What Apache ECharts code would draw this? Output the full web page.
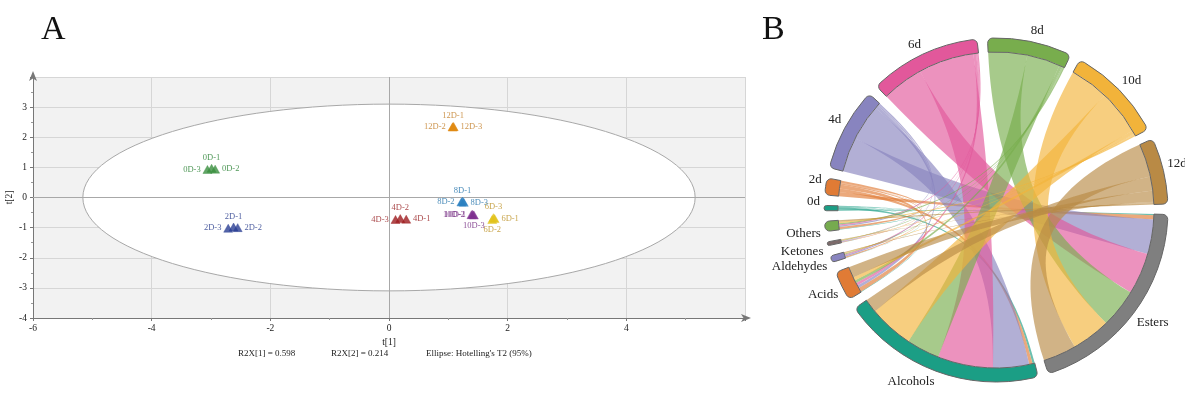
<!DOCTYPE html>
<html><head><meta charset="utf-8">
<script src="https://cdn.jsdelivr.net/npm/echarts@6/dist/echarts.min.js"></script>
<style>html,body{margin:0;padding:0;background:#fff}#c{width:1185px;height:414px}</style>
</head><body><div id="c"></div>
<script>
// ---------- Panel A: PCA scores ----------
const groups = ['0D','2D','4D','6D','8D','10D','12D'];
const groupColors = ['#3a8f3f','#2b3f93','#9e1b1f','#e2c21a','#2a7fc0','#7d2e8e','#e08a12'];
const labelColors = ['#25802f','#223688','#921518','#bb9022','#1b6ea8','#6a1c78','#c07a22'];
const sampleNames = [
  ['0D-1','0D-2','0D-3'], ['2D-1','2D-2','2D-3'], ['4D-1','4D-2','4D-3'],
  ['6D-1','6D-2','6D-3'], ['8D-1','8D-2','8D-3'], ['10D-1','10D-2','10D-3'], ['12D-1','12D-2','12D-3']
];
const t1 = [
  [-2.99,-2.93,-3.06], [-2.62,-2.55,-2.71], [0.29,0.19,0.11],
  [1.78,1.74,1.76], [1.24,1.22,1.26], [1.41,1.39,1.43], [1.08,1.07,1.09]
];
const t2 = [
  [0.97,0.94,0.93], [-0.98,-1.0,-1.02], [-0.72,-0.70,-0.73],
  [-0.70,-0.73,-0.67], [-0.12,-0.15,-0.16], [-0.56,-0.57,-0.58], [2.36,2.34,2.35]
];
const labelPos = [
  ['top','right','left'], ['top','right','left'], ['right','top','left'],
  ['right','bottom','top'], ['top','left','right'], ['left','left','bottom'], ['top','left','right']
];
const ellipseAxes = [5.16, 3.1];
const r2x = ['R2X[1] = 0.598', 'R2X[2] = 0.214', "Ellipse: Hotelling's T2 (95%)"];

// ---------- Panel B: chord diagram ----------
const chordNodes = ['6d','8d','10d','12d','Esters','Alcohols','Acids','Aldehydes','Ketones','Others','0d','2d','4d'];
const nodeColors = ['#e2589b','#78ad4d','#f2b33a','#b98a45','#7f7f7f','#1b9e85','#e07b35','#8884bf','#7d6b6b','#76ab4f','#1b9e85','#e07b35','#8884bf'];
const samples = ['0d','2d','4d','6d','8d','10d','12d'];
const compounds = ['Esters','Alcohols','Acids','Aldehydes','Ketones','Others'];
const flows = [
  [0.4, 0.8, 0.2, 0.1, 0.05, 0.2],
  [1.5, 1.2, 1.5, 0.4, 0.2, 0.8],
  [12.5, 13, 1.0, 0.5, 0.2, 0.5],
  [15, 20, 1.0, 0.3, 0.2, 0.4],
  [14, 12, 1.0, 0.3, 0.2, 0.5],
  [14, 16, 1.2, 0.3, 0.2, 0.5],
  [12, 5, 4.0, 0.3, 0.2, 0.5]
];

const serif = 'Liberation Serif';
const scatterSeries = groups.map((g, gi) => ({
  type: 'scatter', name: g, symbol: 'triangle', symbolSize: [9, 8], z: 5,
  itemStyle: { color: groupColors[gi], borderColor: groupColors[gi], borderWidth: 0.5 },
  label: { show: true, fontFamily: serif, fontSize: 8.5, color: labelColors[gi], distance: 2 },
  labelLayout: { hideOverlap: false },
  data: t1[gi].map((x, i) => ({ name: sampleNames[gi][i], value: [x, t2[gi][i]], label: { position: labelPos[gi][i], formatter: sampleNames[gi][i] } }))
}));

const links = [];
samples.forEach((s, si) => compounds.forEach((c, ci) => {
  links.push({ source: s, target: c, value: flows[si][ci] });
}));

const noteStyle = { fontFamily: serif, fontSize: 9, fontWeight: 'normal', color: '#222' };
const option = {
  animation: false,
  textStyle: { fontFamily: serif },
  title: [
    { text: 'A', left: 36, top: 8, textStyle: { fontFamily: serif, fontSize: 34, fontWeight: 'normal', color: '#111' } },
    { text: 'B', left: 757, top: 8, textStyle: { fontFamily: serif, fontSize: 34, fontWeight: 'normal', color: '#111' } },
    { text: r2x[0], left: 233, top: 344, textStyle: noteStyle },
    { text: r2x[1], left: 326, top: 344, textStyle: noteStyle },
    { text: r2x[2], left: 421, top: 344, textStyle: noteStyle }
  ],
  grid: { left: 33, right: 440, top: 77, bottom: 96, show: true, backgroundColor: '#f2f2f2', borderWidth: 0, outerBoundsMode: 'none', containLabel: false },
  xAxis: {
    type: 'value', min: -6, max: 6, interval: 2,
    name: 't[1]', nameLocation: 'middle', nameGap: 14,
    nameTextStyle: { fontFamily: serif, fontSize: 9.5, color: '#222' },
    axisLine: { onZero: false, lineStyle: { color: '#777' }, symbol: ['none', 'arrow'], symbolSize: [6, 10], symbolOffset: [0, 6] },
    axisTick: { show: true, length: 3, lineStyle: { color: '#777' } },
    minorTick: { show: true, splitNumber: 2, length: 2, lineStyle: { color: '#999' } },
    axisLabel: { fontFamily: serif, fontSize: 9.5, color: '#222', showMaxLabel: false, margin: 5 },
    splitLine: { show: true, lineStyle: { color: '#d6d6d6', width: 1 } }
  },
  yAxis: {
    type: 'value', min: -4, max: 4, interval: 1,
    name: 't[2]', nameLocation: 'middle', nameGap: 19, nameMoveOverlap: false,
    nameTextStyle: { fontFamily: serif, fontSize: 9.5, color: '#222' },
    axisLine: { show: true, onZero: false, lineStyle: { color: '#777' }, symbol: ['none', 'arrow'], symbolSize: [6, 10], symbolOffset: [0, 6] },
    axisTick: { show: true, length: 3, lineStyle: { color: '#777' } },
    minorTick: { show: true, splitNumber: 2, length: 2, lineStyle: { color: '#999' } },
    axisLabel: { fontFamily: serif, fontSize: 9.5, color: '#222', showMaxLabel: false, margin: 6 },
    splitLine: { show: true, lineStyle: { color: '#d6d6d6', width: 1 } }
  },
  series: [
    {
      type: 'custom', z: 2, silent: true,
      data: [[0, 0, ellipseAxes[0], ellipseAxes[1]]],
      renderItem: (params, api) => {
        const c = api.coord([api.value(0), api.value(1)]);
        const s = api.size([api.value(2), api.value(3)]);
        return { type: 'ellipse', shape: { cx: c[0], cy: c[1], rx: s[0], ry: s[1] },
          style: { fill: '#ffffff', stroke: '#a8a8a8', lineWidth: 1 } };
      }
    },
    {
      type: 'line', data: [], z: 3, silent: true,
      markLine: { symbol: 'none', silent: true, label: { show: false },
        lineStyle: { color: '#a8a8a8', type: 'solid', width: 1 },
        data: [{ xAxis: 0 }, { yAxis: 0 }] }
    },
    ...scatterSeries,
    {
      type: 'chord', center: [996, 210], radius: [158, 172],
      startAngle: 134, clockwise: true, padAngle: 3.5, minAngle: 1,
      itemStyle: { borderColor: '#666', borderWidth: 1 },
      lineStyle: { color: 'source', opacity: 0.65 },
      label: { show: true, position: 'outside', fontFamily: serif, fontSize: 13, color: '#222', distance: 4 },
      data: chordNodes.map((n, i) => ({ name: n, itemStyle: { color: nodeColors[i] } })),
      links: links
    }
  ]
};
const chart = echarts.init(document.getElementById('c'), null, { renderer: 'canvas' });
chart.setOption(option);
</script></body></html>
